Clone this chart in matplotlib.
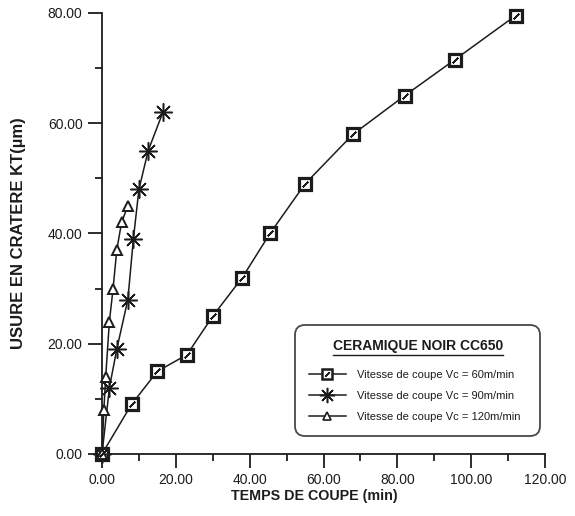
import numpy as np
import matplotlib
matplotlib.use("Agg")
import matplotlib.pyplot as plt
from matplotlib.lines import Line2D

plt.rcParams['font.family'] = ['Liberation Sans', 'DejaVu Sans']

# Cutting time (min) and crater wear KT (µm) for each cutting speed
t_60 = [0, 8, 15, 23, 30, 38, 45.5, 55, 68, 82, 95.5, 112]
kt_60 = [0, 9, 15, 18, 25, 32, 40, 49, 58, 65, 71.5, 79.5]

t_90 = [0, 2, 4, 7, 8.5, 10, 12.5, 16.5]
kt_90 = [0, 12, 19, 28, 39, 48, 55, 62]

t_120 = [0, 0.5, 1, 2, 3, 4, 5.3, 7]
kt_120 = [0, 8, 14, 24, 30, 37, 42, 45]

labels = ["Vitesse de coupe Vc = 60m/min",
          "Vitesse de coupe Vc = 90m/min",
          "Vitesse de coupe Vc = 120m/min"]
legend_title = "CERAMIQUE NOIR CC650"
x_ticks = [0, 20, 40, 60, 80, 100, 120]
y_ticks = [0, 20, 40, 60, 80]

ink = "#1c1c1c"

fig = plt.figure(figsize=(5.75, 5.16), dpi=100)
ax = fig.add_axes([0.1774, 0.1202, 0.7705, 0.8547])

# Vc = 60: square with a diagonal stroke inside
ax.plot(t_60, kt_60, color=ink, lw=1.1, marker='s', ms=8.5, mfc='white',
        mec=ink, mew=2.3, clip_on=False, zorder=3)
ax.plot(t_60, kt_60, ls='none', marker=(2, 2, -45), ms=5.5, mec=ink,
        mew=1.2, clip_on=False, zorder=4)
# Vc = 90: eight-armed asterisk
ax.plot(t_90, kt_90, color=ink, lw=1.1, marker=(8, 2, 0), ms=13,
        mec=ink, mew=1.1, clip_on=False, zorder=3)
# Vc = 120: open triangle
ax.plot(t_120, kt_120, color=ink, lw=1.1, marker='^', ms=7, mfc='white',
        mec=ink, mew=1.4, clip_on=False, zorder=3)

ax.set_xlim(0, 120)
ax.set_ylim(0, 80)
ax.set_xticks(x_ticks)
ax.set_xticks(np.arange(10, 120, 20), minor=True)
ax.set_yticks(y_ticks)
ax.set_yticks(np.arange(10, 80, 20), minor=True)
ax.xaxis.set_major_formatter(matplotlib.ticker.FormatStrFormatter('%.2f'))
ax.yaxis.set_major_formatter(matplotlib.ticker.FormatStrFormatter('%.2f'))

for s in ['top', 'right']:
    ax.spines[s].set_visible(False)
for s in ['left', 'bottom']:
    ax.spines[s].set_linewidth(1.3)
    ax.spines[s].set_color(ink)

ax.tick_params(which='major', length=10, width=1.3, color=ink,
               labelsize=10, labelcolor=ink, pad=4)
ax.tick_params(which='minor', length=5, width=1.3, color=ink)

ax.set_xlabel("TEMPS DE COUPE (min)", fontsize=10.3, fontweight='bold',
              color=ink)
ax.set_ylabel("USURE EN CRATERE KT(µm)", fontsize=12, fontweight='bold',
              color=ink)
ax.xaxis.set_label_coords(0.48, -0.08)
ax.yaxis.set_label_coords(-0.172, 0.5)

# Legend with handles matching the plotted styles
handles = [
    (Line2D([], [], color=ink, lw=1.1, marker='s', ms=7, mfc='white',
            mec=ink, mew=1.8),
     Line2D([], [], ls='none', marker=(2, 2, -45), ms=4.5, mec=ink, mew=1)),
    Line2D([], [], color=ink, lw=1.1, marker=(8, 2, 0), ms=11, mec=ink,
           mew=1.1),
    Line2D([], [], color=ink, lw=1.1, marker='^', ms=6, mfc='white',
           mec=ink, mew=1.2),
]
leg = ax.legend(handles, labels, title=legend_title,
                loc='lower left', bbox_to_anchor=(0.436, 0.041, 0.553, 0.263),
                mode='expand', fontsize=8, handlelength=3.3,
                handletextpad=1.0, labelspacing=1.0, borderpad=1.25,
                frameon=True, fancybox=True, borderaxespad=0,
                title_fontproperties={'weight': 'bold', 'size': 10})
frame = leg.get_frame()
frame.set_edgecolor(ink)
frame.set_linewidth(1.3)
frame.set_boxstyle('round,pad=0,rounding_size=0.9')
leg.get_title().set_color(ink)
for txt in leg.get_texts():
    txt.set_color(ink)
leg._legend_box.sep = 12

# Underline the legend title
fig.canvas.draw()
bb = leg.get_title().get_window_extent()
fw, fh = fig.bbox.width, fig.bbox.height
y_line = (bb.y0 - 1.5) / fh
fig.add_artist(Line2D([bb.x0 / fw, bb.x1 / fw], [y_line, y_line],
                      color=ink, lw=1.0, transform=fig.transFigure))

fig.savefig("out.png", dpi=100)
